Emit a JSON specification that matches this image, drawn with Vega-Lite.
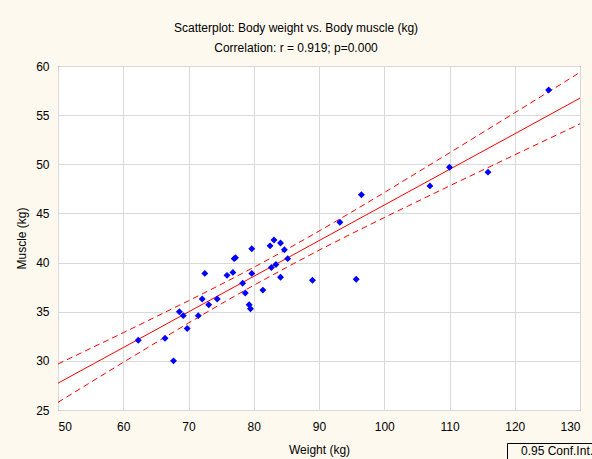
{
  "$schema": "https://vega.github.io/schema/vega-lite/v6.json",
  "width": 522,
  "height": 344,
  "autosize": {"type": "none"},
  "padding": {"left": 58, "top": 66, "right": 12, "bottom": 49},
  "background": "#FDF9EE",
  "title": {
    "text": ["Scatterplot: Body weight vs. Body muscle (kg)", "Correlation: r = 0.919; p=0.000"],
    "font": "Liberation Sans",
    "fontSize": 12,
    "fontWeight": "normal",
    "color": "#000000",
    "anchor": "middle",
    "frame": "group",
    "baseline": "bottom",
    "lineHeight": 20,
    "offset": 14,
    "dx": -23,
    "dy": 21
  },
  "config": {
    "view": {"fill": "white", "stroke": "#000000", "strokeWidth": 1},
    "axis": {
      "labelFont": "Liberation Sans",
      "labelFontSize": 12,
      "labelColor": "#000000",
      "titleFont": "Liberation Sans",
      "titleFontSize": 12,
      "titleFontWeight": "normal",
      "titleColor": "#000000",
      "gridColor": "#D9D9D9",
      "gridWidth": 1,
      "gridOpacity": 1,
      "domain": false,
      "ticks": false
    },
    "legend": {
      "labelFont": "Liberation Sans",
      "labelFontSize": 12,
      "labelColor": "#000000"
    }
  },
  "datasets": {
    "points": [
      {"weight": 62.3, "muscle": 32.1},
      {"weight": 66.4, "muscle": 32.3},
      {"weight": 67.7, "muscle": 30.0},
      {"weight": 68.6, "muscle": 35.0},
      {"weight": 69.2, "muscle": 34.6},
      {"weight": 69.8, "muscle": 33.3},
      {"weight": 71.5, "muscle": 34.6},
      {"weight": 72.1, "muscle": 36.3},
      {"weight": 72.5, "muscle": 38.9},
      {"weight": 73.1, "muscle": 35.7},
      {"weight": 74.4, "muscle": 36.3},
      {"weight": 75.9, "muscle": 38.7},
      {"weight": 76.8, "muscle": 39.0},
      {"weight": 77.0, "muscle": 40.4},
      {"weight": 77.2, "muscle": 40.5},
      {"weight": 78.3, "muscle": 37.9},
      {"weight": 78.7, "muscle": 36.9},
      {"weight": 79.3, "muscle": 35.7},
      {"weight": 79.5, "muscle": 35.3},
      {"weight": 79.7, "muscle": 41.4},
      {"weight": 79.7, "muscle": 38.9},
      {"weight": 81.4, "muscle": 37.2},
      {"weight": 82.5, "muscle": 41.7},
      {"weight": 83.1, "muscle": 42.3},
      {"weight": 84.1, "muscle": 42.0},
      {"weight": 84.7, "muscle": 41.3},
      {"weight": 85.2, "muscle": 40.4},
      {"weight": 82.7, "muscle": 39.5},
      {"weight": 83.4, "muscle": 39.8},
      {"weight": 84.1, "muscle": 38.5},
      {"weight": 89.0, "muscle": 38.2},
      {"weight": 95.7, "muscle": 38.3},
      {"weight": 93.2, "muscle": 44.1},
      {"weight": 96.5, "muscle": 46.9},
      {"weight": 107.0, "muscle": 47.8},
      {"weight": 110.0, "muscle": 49.7},
      {"weight": 115.9, "muscle": 49.2},
      {"weight": 125.2, "muscle": 57.55}
    ],
    "band": [
      {"weight": 50, "fit": 27.73, "lo": 25.78, "hi": 29.68},
      {"weight": 60, "fit": 31.35, "lo": 29.85, "hi": 32.86},
      {"weight": 70, "fit": 34.98, "lo": 33.85, "hi": 36.11},
      {"weight": 75, "fit": 36.79, "lo": 35.80, "hi": 37.78},
      {"weight": 80, "fit": 38.60, "lo": 37.69, "hi": 39.51},
      {"weight": 85, "fit": 40.41, "lo": 39.50, "hi": 41.32},
      {"weight": 90, "fit": 42.23, "lo": 41.26, "hi": 43.20},
      {"weight": 95, "fit": 44.04, "lo": 42.94, "hi": 45.14},
      {"weight": 100, "fit": 45.85, "lo": 44.58, "hi": 47.12},
      {"weight": 110, "fit": 49.48, "lo": 47.80, "hi": 51.16},
      {"weight": 120, "fit": 53.10, "lo": 50.96, "hi": 55.24},
      {"weight": 130, "fit": 56.73, "lo": 54.11, "hi": 59.35}
    ]
  },
  "encoding": {
    "x": {
      "field": "weight",
      "type": "quantitative",
      "title": "Weight (kg)",
      "scale": {"domain": [50, 130], "nice": false, "zero": false},
      "axis": {"values": [50, 60, 70, 80, 90, 100, 110, 120, 130], "labelPadding": 11, "titlePadding": 12}
    }
  },
  "layer": [
    {
      "data": {"name": "band"},
      "mark": {"type": "line", "color": "#FF0000", "strokeWidth": 1, "clip": true},
      "encoding": {
        "y": {
          "field": "fit",
          "type": "quantitative",
          "title": "Muscle (kg)",
          "scale": {"domain": [25, 60], "nice": false, "zero": false},
          "axis": {"values": [25, 30, 35, 40, 45, 50, 55, 60], "labelPadding": 9, "titlePadding": 7}
        }
      }
    },
    {
      "data": {"name": "band"},
      "mark": {"type": "line", "strokeWidth": 1, "strokeDash": [6, 4], "clip": true},
      "encoding": {
        "y": {"field": "lo", "type": "quantitative"},
        "color": {
          "datum": "0.95 Conf.Int.",
          "scale": {"range": ["#FF0000"]},
          "legend": {
            "orient": "none",
            "legendX": 449,
            "legendY": 377,
            "title": null,
            "strokeColor": "#000000",
            "fillColor": "#FDF9EE",
            "padding": 2,
            "symbolSize": 0,
            "symbolOpacity": 0,
            "symbolStrokeWidth": 0,
            "labelOffset": 0
          }
        }
      }
    },
    {
      "data": {"name": "band"},
      "mark": {"type": "line", "strokeWidth": 1, "strokeDash": [6, 4], "clip": true},
      "encoding": {
        "y": {"field": "hi", "type": "quantitative"},
        "color": {"datum": "0.95 Conf.Int."}
      }
    },
    {
      "data": {"name": "points"},
      "mark": {"type": "point", "shape": "diamond", "filled": true, "size": 48, "color": "#0000FF", "opacity": 1},
      "encoding": {
        "y": {"field": "muscle", "type": "quantitative"}
      }
    }
  ]
}
